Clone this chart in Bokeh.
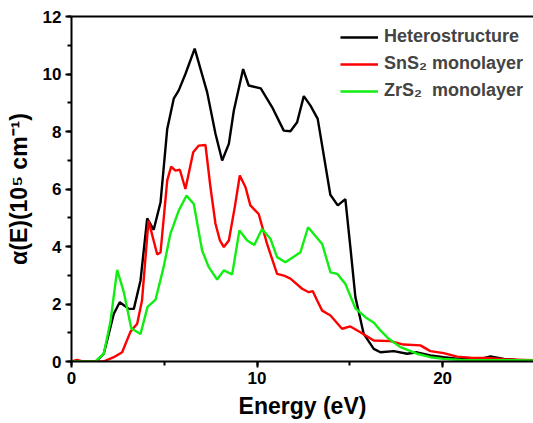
from bokeh.plotting import figure
from bokeh.models import (Range1d, SingleIntervalTicker, LinearAxis, Legend, LegendItem)
from bokeh.embed import file_html
from bokeh.resources import INLINE

# ---- data ----
het_E = [0, 1.0, 1.35, 1.74, 2.28, 2.6, 3.09, 3.36, 3.72, 4.08, 4.43, 4.8, 5.16, 5.51, 5.78,
         6.14, 6.64, 7.31, 7.76, 8.12, 8.48, 8.75, 9.25, 9.55, 10.2, 10.81, 11.44, 11.8,
         12.16, 12.52, 12.88, 13.27, 13.95, 14.35, 14.76, 15.03, 15.3, 15.75, 16.29, 16.65,
         17.37, 18.09, 18.62, 19.34, 20.06, 21.0, 22.0, 22.58, 23.3, 24.0, 25.0]
het_a = [0, 0, 0.02, 0.27, 1.66, 2.06, 1.83, 1.83, 2.82, 4.98, 4.58, 5.54, 8.09, 9.14, 9.43,
         10.0, 10.88, 9.37, 7.92, 6.99, 7.57, 8.73, 10.17, 9.6, 9.5, 8.85, 8.03, 8.01,
         8.32, 9.23, 8.9, 8.44, 5.8, 5.43, 5.65, 3.98, 2.24, 0.96, 0.44, 0.32,
         0.36, 0.27, 0.32, 0.21, 0.15, 0.08, 0.08, 0.18, 0.09, 0.05, 0.04]

sns_E = [0, 0.3, 0.6, 1.72, 2.28, 2.73, 3.18, 3.54, 3.8, 4.15, 4.62, 4.8, 5.16, 5.37, 5.6,
         5.84, 6.14, 6.56, 6.86, 7.22, 7.49, 7.76, 8.0, 8.21, 8.48, 8.8, 9.07, 9.38, 9.64,
         9.91, 10.09, 10.54, 11.08, 11.44, 11.8, 12.43, 12.79, 13.0, 13.24, 13.51, 13.96,
         14.58, 15.03, 15.57, 16.29, 17.19, 17.9, 18.8, 19.34, 20.06, 20.78, 21.5, 22.4,
         23.3, 25.0]
sns_a = [0, 0.06, 0, 0, 0.15, 0.32, 1.04, 1.31, 2.12, 4.9, 3.72, 3.8, 6.3, 6.78, 6.64,
         6.67, 6.0, 7.28, 7.51, 7.53, 6.06, 4.79, 4.21, 3.98, 4.21, 5.37, 6.47, 6.06, 5.43,
         5.25, 5.13, 4.09, 3.05, 2.99, 2.88, 2.53, 2.41, 2.45, 2.12, 1.77, 1.6,
         1.14, 1.22, 1.02, 0.73, 0.71, 0.59, 0.56, 0.36, 0.29, 0.17, 0.13, 0.12,
         0.08, 0.04]

zrs_E = [0, 1.29, 1.74, 2.1, 2.46, 2.82, 3.22, 3.72, 4.1, 4.53, 4.97, 5.33, 5.78, 6.2,
         6.59, 7.04, 7.4, 7.85, 8.21, 8.66, 9.05, 9.47, 9.85, 10.27, 10.72, 11.08, 11.53,
         12.34, 12.75, 13.51, 13.96, 14.32, 14.76, 15.3, 15.84, 16.3, 16.65, 17.1, 17.73,
         18.62, 19.34, 20.06, 21.0, 25.0]
zrs_a = [0, 0, 0.27, 1.39, 3.19, 2.41, 1.16, 0.96, 1.9, 2.15, 3.3, 4.44, 5.25, 5.77,
         5.48, 3.86, 3.28, 2.85, 3.17, 3.03, 4.56, 4.21, 4.05, 4.61, 4.27, 3.63, 3.45,
         3.8, 4.67, 4.09, 3.1, 3.05, 2.7, 1.85, 1.54, 1.35, 1.08, 0.79, 0.5,
         0.27, 0.15, 0.09, 0.05, 0.04]

labels = ["Heterostructure", "SnS\u2082 monolayer", "ZrS\u2082  monolayer"]
colors = ["#000000", "#ff0000", "#11ee11"]

FONT = "Liberation Sans"

p = figure(width=533, height=423, output_backend="svg", toolbar_location=None,
           x_range=Range1d(0, 24.9), y_range=Range1d(0, 12),
           min_border_left=71, min_border_right=0, min_border_top=16, min_border_bottom=62)
p.outline_line_color = None
p.xgrid.visible = False
p.ygrid.visible = False
p.background_fill_color = "white"
p.border_fill_color = "white"

r1 = p.line(het_E, het_a, line_color=colors[0], line_width=2.4)
r2 = p.line(sns_E, sns_a, line_color=colors[1], line_width=2.4)
r3 = p.line(zrs_E, zrs_a, line_color=colors[2], line_width=2.4)

for ax in (p.xaxis[0], p.yaxis[0]):
    ax.axis_line_width = 2
    ax.major_tick_line_width = 2
    ax.minor_tick_line_width = 2
    ax.major_tick_out = 6
    ax.major_tick_in = 0
    ax.minor_tick_out = 4
    ax.minor_tick_in = 0
    ax.major_label_text_font = FONT
    ax.major_label_text_font_style = "bold"
    ax.major_label_text_font_size = "17px"
    ax.major_label_text_color = "black"
    ax.axis_label_text_font = FONT
    ax.axis_label_text_font_style = "bold"
    ax.axis_label_text_font_size = "23px"
    ax.axis_label_text_color = "black"

p.xaxis[0].ticker = SingleIntervalTicker(interval=10, num_minor_ticks=2)
p.yaxis[0].ticker = SingleIntervalTicker(interval=2, num_minor_ticks=2)
p.xaxis[0].axis_label = "Energy (eV)"
p.xaxis[0].axis_label_standoff = 6
p.xaxis[0].major_label_standoff = 4
p.yaxis[0].axis_label = "\u03b1(E)(10\u2075 cm\u207b\u00b9)"
p.yaxis[0].axis_label_standoff = 8
p.yaxis[0].major_label_standoff = 4

top = LinearAxis(axis_line_width=2, major_tick_line_color=None, minor_tick_line_color=None,
                 major_label_text_font_size="0px", major_label_text_color=None)
p.add_layout(top, "above")

legend = Legend(items=[LegendItem(label=labels[0], renderers=[r1]),
                       LegendItem(label=labels[1], renderers=[r2]),
                       LegendItem(label=labels[2], renderers=[r3])],
                location="top_right", border_line_color=None, background_fill_alpha=0,
                label_text_font=FONT, label_text_font_style="bold",
                label_text_font_size="18px", glyph_width=38, glyph_height=20,
                label_height=20, spacing=6, padding=0, margin=10, label_standoff=6)
p.add_layout(legend)

open("out.html", "w").write(file_html(p, INLINE))
